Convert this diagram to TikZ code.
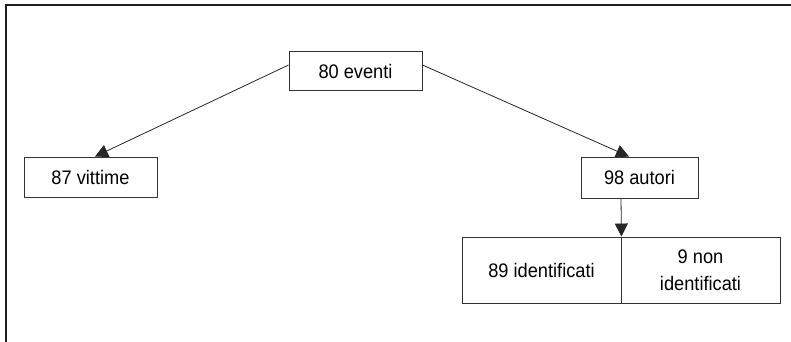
\documentclass[tikz,border=0pt]{standalone}
\usepackage{fontspec}
\setmainfont{Liberation Sans}[FakeStretch=0.93]
\usetikzlibrary{arrows.meta,backgrounds}
\begin{document}
\begin{tikzpicture}[x=1pt,y=-1pt,
  box/.style={draw=black!80, line width=0.9pt, fill=white, inner sep=0pt,
    font=\fontsize{19.6}{27}\selectfont, align=center},
  arr/.style={draw=black!85, line width=0.8pt, -{Triangle[width=13pt,length=13pt]}},
  frame/.style={draw=black!88, line width=2pt, line join=miter}]
\useasboundingbox (0,0) rectangle (791,342);
\draw[frame] (6,342) -- (6,5) -- (791,5);
\node[box, minimum width=133pt, minimum height=39pt] (ev) at (355.5,71) {80 eventi};
\node[box, minimum width=133pt, minimum height=40pt] (vi) at (90.5,177) {87 vittime};
\node[box, minimum width=117pt, minimum height=41pt] (au) at (639.5,177.5) {98 autori};
\node[box, minimum width=159pt, minimum height=66pt] (id) at (541.5,270) {89 identificati};
\node[box, minimum width=159pt, minimum height=66pt] (nid) at (700.5,270) {9 non\\identificati};
\begin{scope}[on background layer]
  \draw[arr] ([yshift=6pt]ev.west) -- ([xshift=4.5pt]vi.north);
  \draw[arr] ([yshift=6pt]ev.east) -- ([xshift=-10.5pt]au.north);
\end{scope}
\draw[arr] ([xshift=-18.5pt]au.south) -- (id.north east);
\end{tikzpicture}
\end{document}
